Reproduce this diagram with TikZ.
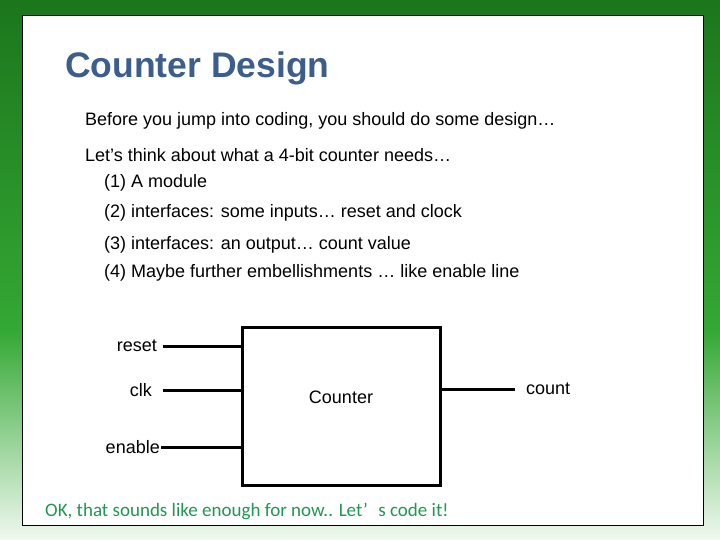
\documentclass[tikz,border=0pt]{standalone}
\usepackage{fontspec}
\setmainfont{Liberation Sans}
\newfontfamily\notefont{Carlito}
\usetikzlibrary{positioning}
\definecolor{titleblue}{RGB}{59,94,140}
\definecolor{darkgreen}{RGB}{28,118,28}
\definecolor{midgreen}{RGB}{52,168,52}
\definecolor{palegreen}{RGB}{240,248,240}
\definecolor{notegreen}{RGB}{34,150,84}

\begin{document}
\begin{tikzpicture}[
  x=1pt, y=-1pt,
  body/.style={anchor=west, inner sep=0pt, font=\fontsize{18}{21}\selectfont},
  port/.style={inner sep=3.5pt, font=\fontsize{18}{21}\selectfont},
  block/.style={draw, line width=3pt, minimum width=198pt, minimum height=158pt},
  wire/.style={line width=3pt}
]
\useasboundingbox (0,0) rectangle (720,540);
% slide background
\shade[top color=darkgreen, bottom color=midgreen] (0,0) rectangle (720,330);
\shade[top color=midgreen, bottom color=palegreen] (0,330) rectangle (720,540);
\draw[fill=white, line width=1pt] (22,16) rectangle (703,525);

\node[anchor=west, inner sep=0pt, text=titleblue,
      font=\fontsize{35.5}{42}\selectfont\bfseries] (title) at (65,68) {Counter Design};
\node[body] (intro) at (85,121) {Before you jump into coding, you should do some design…};
\node[body] (needs) at (85,155) {Let’s think about what a 4-bit counter needs…};
\node[body] (item1) at (104,183) {(1) A module};
\node[body] (item2) at (104,213) {(2) interfaces: some inputs… reset and clock};
\node[body] (item3) at (104,245) {(3) interfaces: an output… count value};
\node[body] (item4) at (104,273) {(4) Maybe further embellishments … like enable line};

% the counter block and its ports
\node[block] (counter) at (341,406) {};
\node[port] (name) at (341,397) {Counter};
\node[port, anchor=east, inner xsep=6pt] (reset) at (163,346) {reset};
\node[port, anchor=east, inner xsep=11pt] (clk) at (163,390) {clk};
\node[port, anchor=east, inner xsep=1pt] (enable) at (161,447) {enable};
\node[port, anchor=west, inner xsep=11pt] (count) at (515,389) {count};

\draw[wire] (reset.east) -- (reset.east -| counter.west);
\draw[wire] (clk.east) -- (clk.east -| counter.west);
\draw[wire] (enable.east) -- (enable.east -| counter.west);
\draw[wire] (count.west -| counter.east) -- (count.west);

\node[anchor=west, inner sep=0pt, text=notegreen,
      font=\notefont\fontsize{19}{23}\selectfont] (okay) at (45,511)
  {OK, that sounds like enough for now.. Let’\hspace{0.55em}s code it!};
\end{tikzpicture}
\end{document}
